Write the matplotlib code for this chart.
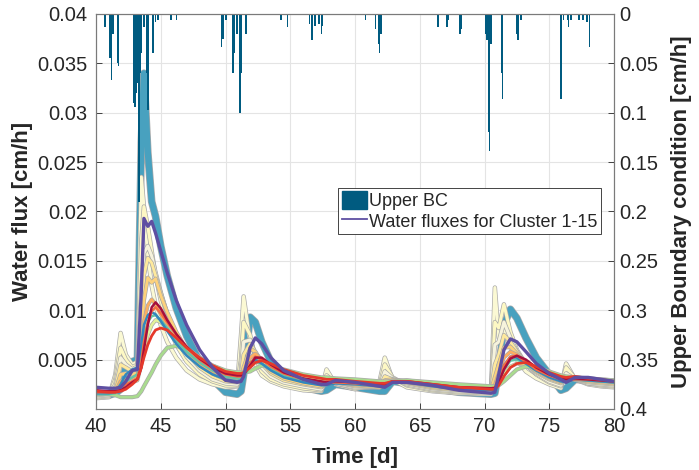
import matplotlib
matplotlib.use("Agg")
import matplotlib.pyplot as plt
import matplotlib.patheffects as pe
from matplotlib.lines import Line2D

plt.rcParams['font.family'] = ['Liberation Sans', 'DejaVu Sans']

# upper boundary condition: rain rate [cm/h] at the hours where it is non-zero
bc_time = [40.7, 41.1, 41.2, 41.3, 41.65, 41.75, 42.9, 43.0, 43.1, 43.2, 43.3, 43.4, 43.5,
           43.7, 43.9, 44.0, 44.4, 44.6, 44.8, 45.8, 46.2, 49.7, 49.8, 50.05, 50.6, 50.7,
           50.9, 51.1, 51.2, 51.6, 54.3, 54.8, 56.5, 56.7, 56.9, 57.2, 57.4, 57.5, 60.8,
           61.6, 61.8, 61.9, 62.0, 66.4, 67.1, 67.2, 68.1, 68.2, 70.1, 70.2, 70.3, 70.4,
           70.5, 71.35, 71.4, 72.5, 72.6, 72.8, 75.9, 76.1, 76.4, 76.5, 76.7, 77.3, 77.6,
           77.9, 78.1]
bc_rate = [0.013, 0.045, 0.067, 0.02, 0.05, 0.053, 0.09, 0.094, 0.08, 0.07, 0.19, 0.06, 0.04,
           0.013, 0.06, 0.097, 0.04, 0.008, 0.006, 0.006, 0.006, 0.033, 0.025, 0.006, 0.06, 0.04,
           0.02, 0.1, 0.06, 0.02, 0.006, 0.013, 0.01, 0.026, 0.012, 0.01, 0.02, 0.012, 0.006,
           0.015, 0.03, 0.04, 0.02, 0.013, 0.013, 0.006, 0.02, 0.015, 0.02, 0.026, 0.12, 0.139,
           0.03, 0.06, 0.086, 0.02, 0.026, 0.006, 0.086, 0.006, 0.006, 0.013, 0.006, 0.006, 0.006,
           0.008, 0.033]

# simulated water flux [cm/h] for the 15 clusters
time = [40, 41, 41.5, 41.9, 42.3, 42.8, 43.2, 43.5, 43.7, 44.0,
        44.3, 44.6, 45.0, 45.5, 46.2, 47, 48, 49, 50, 50.9,
        51.2, 51.4, 51.9, 52.3, 52.8, 53.5, 54.5, 56, 57.4, 57.8,
        58.5, 60, 61.9, 62.3, 62.9, 64, 66, 68, 70.5, 70.8,
        71.1, 71.5, 72.0, 72.5, 73.2, 74, 75, 75.9, 76.3, 77,
        78, 79, 80]

flux_c01 = [0.0019, 0.0018, 0.0018, 0.0019, 0.0022, 0.0027, 0.0030, 0.0042, 0.0060, 0.0085,
            0.0103, 0.0108, 0.0102, 0.0090, 0.0076, 0.0063, 0.0051, 0.0042, 0.0036, 0.0034,
            0.0034, 0.0035, 0.0044, 0.0052, 0.0052, 0.0045, 0.0037, 0.0031, 0.0028, 0.0027,
            0.0028, 0.0027, 0.0025, 0.0025, 0.0028, 0.0028, 0.0025, 0.0022, 0.0021, 0.0021,
            0.0027, 0.0040, 0.0051, 0.0054, 0.0050, 0.0042, 0.0035, 0.0031, 0.0030, 0.0031,
            0.0030, 0.0029, 0.0028]
flux_c02 = [0.0018, 0.0017, 0.0017, 0.0018, 0.0020, 0.0025, 0.0030, 0.0042, 0.0052, 0.0065,
            0.0074, 0.0080, 0.0082, 0.0080, 0.0072, 0.0062, 0.0052, 0.0044, 0.0038, 0.0036,
            0.0036, 0.0037, 0.0042, 0.0047, 0.0049, 0.0046, 0.0040, 0.0034, 0.0031, 0.0030,
            0.0030, 0.0028, 0.0026, 0.0026, 0.0028, 0.0028, 0.0025, 0.0022, 0.0020, 0.0020,
            0.0024, 0.0033, 0.0042, 0.0046, 0.0047, 0.0043, 0.0037, 0.0033, 0.0032, 0.0033,
            0.0031, 0.0030, 0.0028]
flux_c03 = [0.0017, 0.0017, 0.0017, 0.0022, 0.0025, 0.0028, 0.0031, 0.0048, 0.0068, 0.0088,
            0.0099, 0.0103, 0.0097, 0.0088, 0.0075, 0.0062, 0.0050, 0.0041, 0.0035, 0.0033,
            0.0033, 0.0035, 0.0046, 0.0053, 0.0050, 0.0043, 0.0036, 0.0030, 0.0027, 0.0026,
            0.0027, 0.0026, 0.0024, 0.0025, 0.0028, 0.0027, 0.0024, 0.0022, 0.0021, 0.0022,
            0.0030, 0.0044, 0.0053, 0.0054, 0.0048, 0.0040, 0.0034, 0.0030, 0.0029, 0.0030,
            0.0030, 0.0029, 0.0028]
flux_c04 = [0.0016, 0.0016, 0.0017, 0.0028, 0.0030, 0.0031, 0.0034, 0.0060, 0.0088, 0.0105,
            0.0111, 0.0106, 0.0096, 0.0085, 0.0071, 0.0058, 0.0046, 0.0038, 0.0033, 0.0031,
            0.0032, 0.0037, 0.0052, 0.0056, 0.0050, 0.0041, 0.0034, 0.0028, 0.0025, 0.0025,
            0.0027, 0.0025, 0.0023, 0.0026, 0.0029, 0.0027, 0.0023, 0.0021, 0.0020, 0.0024,
            0.0036, 0.0052, 0.0058, 0.0055, 0.0047, 0.0039, 0.0032, 0.0028, 0.0028, 0.0030,
            0.0029, 0.0028, 0.0027]
flux_c05 = [0.0015, 0.0016, 0.0019, 0.0035, 0.0036, 0.0035, 0.0037, 0.0075, 0.0110, 0.0133,
            0.0128, 0.0132, 0.0115, 0.0098, 0.0078, 0.0060, 0.0045, 0.0036, 0.0030, 0.0029,
            0.0032, 0.0042, 0.0061, 0.0058, 0.0048, 0.0038, 0.0031, 0.0026, 0.0023, 0.0025,
            0.0027, 0.0024, 0.0022, 0.0029, 0.0030, 0.0027, 0.0022, 0.0020, 0.0019, 0.0032,
            0.0045, 0.0062, 0.0063, 0.0056, 0.0046, 0.0038, 0.0031, 0.0027, 0.0030, 0.0030,
            0.0028, 0.0027, 0.0026]
flux_c06 = [0.0014, 0.0015, 0.0022, 0.0045, 0.0042, 0.0038, 0.0040, 0.0095, 0.0135, 0.0153,
            0.0148, 0.0135, 0.0118, 0.0097, 0.0075, 0.0057, 0.0042, 0.0033, 0.0028, 0.0027,
            0.0035, 0.0055, 0.0066, 0.0058, 0.0046, 0.0036, 0.0029, 0.0025, 0.0022, 0.0027,
            0.0027, 0.0023, 0.0022, 0.0033, 0.0030, 0.0026, 0.0021, 0.0019, 0.0018, 0.0045,
            0.0055, 0.0075, 0.0068, 0.0058, 0.0046, 0.0037, 0.0030, 0.0026, 0.0032, 0.0030,
            0.0027, 0.0026, 0.0025]
flux_c07 = [0.0012, 0.0013, 0.0030, 0.0062, 0.0050, 0.0042, 0.0045, 0.0170, 0.0205, 0.0185,
            0.0160, 0.0135, 0.0110, 0.0088, 0.0065, 0.0048, 0.0035, 0.0028, 0.0024, 0.0024,
            0.0050, 0.0088, 0.0075, 0.0052, 0.0038, 0.0030, 0.0025, 0.0021, 0.0019, 0.0034,
            0.0026, 0.0021, 0.0023, 0.0045, 0.0032, 0.0024, 0.0019, 0.0017, 0.0016, 0.0088,
            0.0082, 0.0106, 0.0078, 0.0060, 0.0045, 0.0035, 0.0027, 0.0023, 0.0042, 0.0031,
            0.0026, 0.0024, 0.0023]
flux_c08 = [0.0011, 0.0012, 0.0035, 0.0077, 0.0055, 0.0045, 0.0048, 0.0235, 0.0205, 0.0155,
            0.0125, 0.0105, 0.0085, 0.0068, 0.0052, 0.0039, 0.0030, 0.0025, 0.0022, 0.0023,
            0.0075, 0.0114, 0.0068, 0.0045, 0.0034, 0.0028, 0.0023, 0.0019, 0.0018, 0.0040,
            0.0025, 0.0020, 0.0028, 0.0052, 0.0030, 0.0022, 0.0018, 0.0016, 0.0015, 0.0123,
            0.0072, 0.0080, 0.0062, 0.0050, 0.0038, 0.0031, 0.0025, 0.0021, 0.0046, 0.0030,
            0.0025, 0.0023, 0.0022]
flux_c09 = [0.0016, 0.0016, 0.0017, 0.0024, 0.0026, 0.0027, 0.0029, 0.0045, 0.0060, 0.0075,
            0.0085, 0.0090, 0.0088, 0.0082, 0.0072, 0.0062, 0.0052, 0.0044, 0.0038, 0.0036,
            0.0036, 0.0037, 0.0043, 0.0048, 0.0048, 0.0044, 0.0038, 0.0033, 0.0030, 0.0030,
            0.0030, 0.0029, 0.0027, 0.0027, 0.0029, 0.0029, 0.0026, 0.0024, 0.0022, 0.0022,
            0.0026, 0.0035, 0.0043, 0.0046, 0.0045, 0.0041, 0.0036, 0.0033, 0.0032, 0.0032,
            0.0031, 0.0030, 0.0029]
flux_c10 = [0.0016, 0.0015, 0.0014, 0.0012, 0.0012, 0.0012, 0.0013, 0.0018, 0.0023, 0.0030,
            0.0037, 0.0045, 0.0054, 0.0062, 0.0064, 0.0060, 0.0052, 0.0044, 0.0039, 0.0037,
            0.0037, 0.0037, 0.0038, 0.0041, 0.0044, 0.0043, 0.0040, 0.0035, 0.0032, 0.0032,
            0.0031, 0.0030, 0.0028, 0.0028, 0.0028, 0.0029, 0.0027, 0.0025, 0.0023, 0.0023,
            0.0024, 0.0028, 0.0034, 0.0040, 0.0043, 0.0042, 0.0038, 0.0034, 0.0033, 0.0032,
            0.0031, 0.0030, 0.0029]
flux_c11 = [0.0015, 0.0015, 0.0016, 0.0022, 0.0028, 0.0032, 0.0035, 0.0055, 0.0072, 0.0088,
            0.0094, 0.0095, 0.0090, 0.0082, 0.0070, 0.0058, 0.0047, 0.0039, 0.0033, 0.0031,
            0.0031, 0.0033, 0.0043, 0.0048, 0.0046, 0.0040, 0.0034, 0.0029, 0.0026, 0.0026,
            0.0027, 0.0026, 0.0024, 0.0024, 0.0027, 0.0027, 0.0024, 0.0021, 0.0020, 0.0020,
            0.0027, 0.0040, 0.0049, 0.0050, 0.0046, 0.0039, 0.0033, 0.0029, 0.0028, 0.0030,
            0.0029, 0.0028, 0.0027]
flux_c12 = [0.0015, 0.0014, 0.0016, 0.0020, 0.0042, 0.0048, 0.0050, 0.0270, 0.0340, 0.0260,
            0.0210, 0.0195, 0.0165, 0.0135, 0.0102, 0.0074, 0.0048, 0.0030, 0.0017, 0.0015,
            0.0018, 0.0035, 0.0093, 0.0088, 0.0068, 0.0048, 0.0032, 0.0022, 0.0018, 0.0019,
            0.0025, 0.0022, 0.0018, 0.0018, 0.0028, 0.0026, 0.0021, 0.0017, 0.0015, 0.0016,
            0.0040, 0.0085, 0.0101, 0.0092, 0.0072, 0.0052, 0.0035, 0.0019, 0.0021, 0.0030,
            0.0029, 0.0027, 0.0025]
flux_c13 = [0.0016, 0.0016, 0.0017, 0.0025, 0.0035, 0.0040, 0.0042, 0.0065, 0.0085, 0.0095,
            0.0098, 0.0096, 0.0089, 0.0079, 0.0066, 0.0054, 0.0043, 0.0035, 0.0030, 0.0028,
            0.0029, 0.0033, 0.0047, 0.0050, 0.0046, 0.0039, 0.0032, 0.0027, 0.0024, 0.0024,
            0.0026, 0.0025, 0.0023, 0.0023, 0.0027, 0.0027, 0.0023, 0.0020, 0.0019, 0.0019,
            0.0028, 0.0044, 0.0053, 0.0052, 0.0046, 0.0039, 0.0032, 0.0028, 0.0027, 0.0030,
            0.0029, 0.0028, 0.0027]
flux_c14 = [0.0013, 0.0014, 0.0025, 0.0052, 0.0045, 0.0040, 0.0043, 0.0120, 0.0158, 0.0165,
            0.0155, 0.0138, 0.0118, 0.0095, 0.0072, 0.0053, 0.0039, 0.0030, 0.0026, 0.0025,
            0.0040, 0.0068, 0.0070, 0.0055, 0.0042, 0.0033, 0.0027, 0.0023, 0.0020, 0.0030,
            0.0026, 0.0022, 0.0022, 0.0038, 0.0031, 0.0025, 0.0020, 0.0018, 0.0017, 0.0065,
            0.0068, 0.0088, 0.0072, 0.0058, 0.0045, 0.0036, 0.0028, 0.0024, 0.0036, 0.0030,
            0.0026, 0.0025, 0.0024]
flux_c15 = [0.0022, 0.0021, 0.0021, 0.0022, 0.0028, 0.0039, 0.0040, 0.0120, 0.0193, 0.0185,
            0.0190, 0.0178, 0.0160, 0.0138, 0.0110, 0.0085, 0.0060, 0.0042, 0.0029, 0.0027,
            0.0028, 0.0033, 0.0062, 0.0072, 0.0066, 0.0052, 0.0039, 0.0030, 0.0025, 0.0025,
            0.0029, 0.0027, 0.0023, 0.0022, 0.0027, 0.0027, 0.0024, 0.0019, 0.0016, 0.0017,
            0.0035, 0.0060, 0.0071, 0.0068, 0.0058, 0.0046, 0.0036, 0.0030, 0.0027, 0.0032,
            0.0032, 0.0030, 0.0028]

clusters = [flux_c01, flux_c02, flux_c03, flux_c04, flux_c05, flux_c06, flux_c07, flux_c08,
            flux_c09, flux_c10, flux_c11, flux_c12, flux_c13, flux_c14, flux_c15]

# line style per cluster: colour, width and whether it gets a grey outline
colors = ['#a50f3d', '#e5392b', '#f46d43', '#fdae61', '#fdd27c', '#fee99d', '#fdf8c4', '#fbf9d4',
          '#e3f29a', '#a9db8f', '#66c2a5', '#48a1bf', '#3288bd', '#f6f3dc', '#5e4fa2']
widths = [1.8, 2.0, 1.8, 1.8, 2.0, 2.0, 2.2, 2.2, 1.8, 2.0, 1.8, 4.5, 1.8, 2.2, 2.4]
outlined = [False, False, False, True, True, True, True, True, True, True, False, True, False,
            True, False]
draw_order = [11, 7, 6, 13, 5, 4, 3, 8, 9, 10, 12, 2, 0, 1, 14]

bc_color = '#005b80'
text_color = '#262626'

fig = plt.figure(figsize=(6.99, 4.70), dpi=100)
ax = fig.add_axes([96/699, 1 - 409/470, 518/699, 395/470])
ax2 = ax.twinx()

for i in draw_order:
    effects = None
    if outlined[i]:
        effects = [pe.Stroke(linewidth=widths[i] + 1.0, foreground='#a9a9a9'), pe.Normal()]
    ax.plot(time, clusters[i], color=colors[i], lw=widths[i], solid_capstyle='round',
            path_effects=effects, zorder=2)

ax2.bar(bc_time, bc_rate, width=0.12, color=bc_color, linewidth=0, align='center')

# left axis: water flux
ax.set_xlim(40, 80)
ax.set_ylim(0, 0.04)
ax.set_xticks(range(40, 81, 5))
flux_ticks = [0.005, 0.01, 0.015, 0.02, 0.025, 0.03, 0.035, 0.04]
ax.set_yticks(flux_ticks)
ax.set_yticklabels(['%g' % v for v in flux_ticks])
ax.grid(True, color='#e4e4e4', lw=0.8)
ax.set_axisbelow(True)

# right axis: upper boundary condition, hanging from the top
ax2.set_ylim(0.4, 0)
bc_ticks = [0, 0.05, 0.1, 0.15, 0.2, 0.25, 0.3, 0.35, 0.4]
ax2.set_yticks(bc_ticks)
ax2.set_yticklabels(['%g' % v for v in bc_ticks])

for a in (ax, ax2):
    a.tick_params(direction='in', length=4, width=0.6, labelsize=14.5, colors=text_color,
                  labelcolor=text_color)
    for s in a.spines.values():
        s.set_color('#7a7a7a')
        s.set_linewidth(0.8)
ax.tick_params(axis='x', pad=6)
ax.tick_params(axis='y', pad=6)
ax2.tick_params(axis='y', pad=4)

ax.set_xlabel('Time [d]', fontsize=16, fontweight='bold', color=text_color)
ax.set_ylabel('Water flux [cm/h]', fontsize=16, fontweight='bold', color=text_color)
ax2.set_ylabel('Upper Boundary condition [cm/h]', fontsize=16, fontweight='bold',
               color=text_color)
ax.xaxis.set_label_coords(0.5, -0.095)
ax.yaxis.set_label_coords(-0.122, 0.5)
ax2.yaxis.set_label_coords(1.11, 0.5)

handles = [plt.Rectangle((0, 0), 1, 1, color=bc_color),
           Line2D([0], [0], color=colors[14], lw=1.3)]
leg = ax2.legend(handles, ['Upper BC', 'Water fluxes for Cluster 1-15'],
                 loc='upper left', bbox_to_anchor=(0.467, 0.56), borderaxespad=0,
                 fontsize=13, frameon=True, fancybox=False, framealpha=1,
                 handlelength=1.4, handleheight=1.1, handletextpad=0.1,
                 borderpad=0.2, labelspacing=0.1)
leg.get_frame().set_edgecolor('#262626')
leg.get_frame().set_linewidth(0.6)
for t in leg.get_texts():
    t.set_color(text_color)

fig.savefig('out.png', dpi=100)
